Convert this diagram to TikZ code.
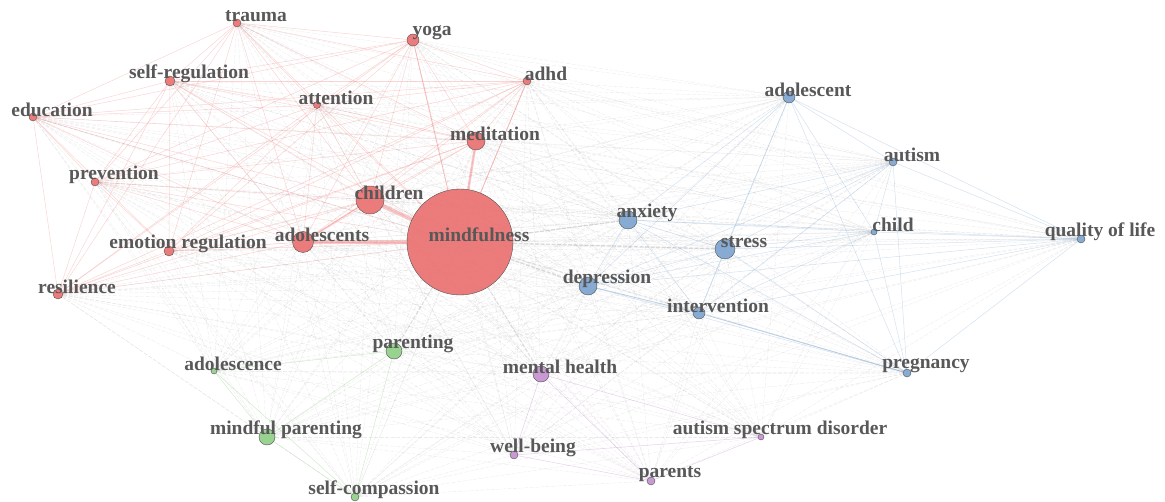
\documentclass[tikz,border=0pt]{standalone}
\usepackage{fontspec}
\setmainfont{Liberation Serif}
\usetikzlibrary{backgrounds}
\definecolor{cR}{RGB}{234,110,110}
\definecolor{cB}{RGB}{122,162,206}
\definecolor{cG}{RGB}{142,206,132}
\definecolor{cP}{RGB}{196,142,206}
\definecolor{eRc}{RGB}{240,125,125}
\definecolor{eBc}{RGB}{130,170,210}
\definecolor{eGc}{RGB}{140,205,130}
\definecolor{ePc}{RGB}{195,140,205}
\definecolor{eXc}{RGB}{160,160,160}
\definecolor{txt}{RGB}{88,88,88}
\definecolor{outl}{RGB}{80,80,80}
\begin{document}
\begin{tikzpicture}[x=1pt,y=-1pt,
  kw/.style={circle,inner sep=0pt,draw=outl,line width=0.4pt,fill opacity=0.9},
  lab/.style={inner sep=0pt,text=txt,font=\fontsize{19.5}{20}\selectfont\bfseries},
  eR/.style={draw=eRc,opacity=0.32,line width=0.5pt},
  eB/.style={draw=eBc,opacity=0.35,line width=0.5pt},
  eG/.style={draw=eGc,opacity=0.4,line width=0.5pt},
  eP/.style={draw=ePc,opacity=0.4,line width=0.5pt},
  eX/.style={draw=eXc,opacity=0.2,line width=0.4pt,dash pattern=on 4pt off 1.5pt}]
\useasboundingbox (0,0) rectangle (1165,502);
\foreach \id/\x/\y/\r/\c in {
 mind/460/242/53/R, chil/370/200/14/R, adts/303/242/10.5/R, medi/476/141/9/R,
 yoga/413/40/6/R, trau/237/23/4/R, adhd/527/81/4/R, sreg/170/81/5/R,
 atte/317/105/3.5/R, educ/33/117/4/R, prev/95/182/4/R, ereg/169/251/5/R,
 resi/58/294/5/R,
 adlt/789/97/6/B, auti/893/162/4/B, chld/874/232/3/B, qual/1081/239/4/B,
 anxi/628/220/9/B, stre/725/249/10/B, depr/588/286/9/B, inte/699/313/6/B,
 preg/907/373/4/B,
 pare/394/351/8/G, adce/214/371/3/G, mpar/267/437/8/G, scom/355/497/4/G,
 ment/541/374/8/P, well/514/455/4/P, prnt/651/481/4/P, asd/761/437/3/P}
 {\node[kw,fill=c\c,minimum size={2*\r pt}] (\id) at (\x,\y) {};}
\def\Rlist{mind,chil,adts,medi,yoga,trau,adhd,sreg,atte,educ,prev,ereg,resi}
\def\Blist{adlt,auti,chld,qual,anxi,stre,depr,inte,preg}
\def\Glist{pare,adce,mpar,scom}
\def\Plist{ment,well,prnt,asd}
\begin{pgfonlayer}{background}
 \foreach \a in \Rlist {\foreach \b in \Blist {\draw[eX] (\a) -- (\b);}}
 \foreach \a in \Rlist {\foreach \b in \Glist {\draw[eX] (\a) -- (\b);}}
 \foreach \a in \Rlist {\foreach \b in \Plist {\draw[eX] (\a) -- (\b);}}
 \foreach \a in \Blist {\foreach \b in \Glist {\draw[eX] (\a) -- (\b);}}
 \foreach \a in \Blist {\foreach \b in \Plist {\draw[eX] (\a) -- (\b);}}
 \foreach \a in \Glist {\foreach \b in \Plist {\draw[eX] (\a) -- (\b);}}
 \foreach \a [count=\i] in \Rlist {\foreach \b [count=\j] in \Rlist {\ifnum\j>\i \draw[eR] (\a) -- (\b);\fi}}
 \foreach \a [count=\i] in \Blist {\foreach \b [count=\j] in \Blist {\ifnum\j>\i \draw[eB] (\a) -- (\b);\fi}}
 \foreach \a [count=\i] in \Glist {\foreach \b [count=\j] in \Glist {\ifnum\j>\i \draw[eG] (\a) -- (\b);\fi}}
 \foreach \a [count=\i] in \Plist {\foreach \b [count=\j] in \Plist {\ifnum\j>\i \draw[eP] (\a) -- (\b);\fi}}
 \draw[eR,line width=4pt,opacity=0.42] (mind) -- (adts);
 \draw[eR,line width=4pt,opacity=0.42] (mind) -- (chil);
 \draw[eR,line width=2.5pt,opacity=0.42] (mind) -- (medi);
 \draw[eR,line width=1.4pt,opacity=0.4] (chil) -- (adts);
 \draw[eR,line width=0.9pt,opacity=0.35] (mind) -- (yoga);
 \draw[eR,line width=0.9pt,opacity=0.35] (mind) -- (adhd);
 \draw[eX,line width=1.6pt,opacity=0.3] (mind) -- (stre);
 \draw[eX,line width=1.6pt,opacity=0.3] (mind) -- (depr);
 \draw[eX,line width=1.4pt,opacity=0.3] (mind) -- (anxi);
 \draw[eX,line width=1.2pt,opacity=0.25] (mind) -- (pare);
 \draw[eX,line width=1.2pt,opacity=0.25] (mind) -- (ment);
 \draw[eB,line width=0.9pt] (depr) -- (inte);
 \draw[eB,line width=0.9pt] (inte) -- (preg);
\end{pgfonlayer}
\foreach \id/\x/\y/\t in {
 mind/460/242/mindfulness, chil/370/200/children, adts/303/242/adolescents,
 medi/476/141/meditation, yoga/413/40/yoga, trau/237/23/trauma, adhd/527/81/adhd,
 sreg/170/81/self-regulation, atte/317/105/attention, educ/33/117/education,
 prev/95/182/prevention, ereg/169/251/emotion regulation, resi/58/294/resilience,
 adlt/789/97/adolescent, auti/893/162/autism, chld/874/232/child,
 qual/1081/239/quality of life, anxi/628/220/anxiety, stre/725/249/stress,
 depr/588/286/depression, inte/699/313/intervention, preg/907/373/pregnancy,
 pare/394/351/parenting, adce/214/371/adolescence, mpar/267/437/mindful parenting,
 scom/355/497/self-compassion, ment/541/374/mental health, well/514/455/well-being,
 prnt/651/481/parents, asd/761/437/autism spectrum disorder}
 {\node[lab] (l\id) at ({\x+19},{\y-7}) {\t};}
\end{tikzpicture}
\end{document}
